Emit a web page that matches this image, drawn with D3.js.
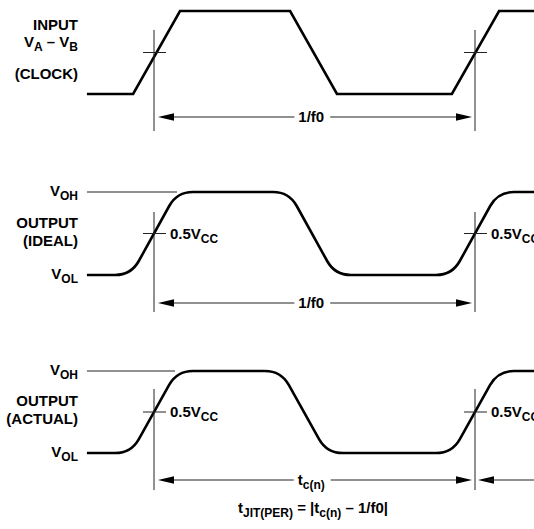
<!DOCTYPE html>
<html><head><meta charset="utf-8">
<script src="https://cdn.jsdelivr.net/npm/d3@7"></script>
<style>
body{margin:0;background:#fff}
svg{display:block}
text{font-family:"Liberation Sans",Arial,Helvetica,sans-serif;font-weight:bold;fill:#000}
</style>
</head><body>
<svg id="chart" width="534" height="529"></svg>
<script>
// ---------- data (time in units of one period 1/f0; 0 = first crossing) ----------
const timeSpan = [-0.209, 1.184];
const crossTimes = [0, 1];                       // measurement crossings
const inputTimes  = [-0.209, -0.065, 0.081, 0.424, 0.570, 0.928, 1.075, 1.184];
const inputLevels = [0, 0, 1, 1, 0, 0, 1, 1];     // 0 = low, 1 = high
const idealEdgeTimes  = [0, 0.492, 1];
const idealEdgeDirs   = [1, -1, 1];               // 1 rise, -1 fall
const actualEdgeTimes = [0, 0.467, 1];
const actualEdgeDirs  = [1, -1, 1];
const rampDuration = 0.143;
const periodLabels = ["1/f0", "1/f0", "tc(n)"];
const panelNames = ["INPUT", "OUTPUT (IDEAL)", "OUTPUT (ACTUAL)"];

// ---------- layout ----------
const svg = d3.select("#chart");
const x = d3.scaleLinear().domain([0, 1]).range([154, 475]);
const yIn  = d3.scaleLinear().domain([0, 1]).range([94, 11]);
const yId  = d3.scaleLinear().domain([0, 1]).range([275, 192]);
const yAc  = d3.scaleLinear().domain([0, 1]).range([453, 371]);
const FS = 15, SUB = 12;
const ink = "#000", thin = "#222";

// input waveform
const inputData = inputTimes.map((t, i) => [t, inputLevels[i]]);
svg.append("path")
  .attr("d", d3.line().x(d => x(d[0])).y(d => yIn(d[1]))(inputData))
  .attr("fill", "none").attr("stroke", ink).attr("stroke-width", 2.6)
  .attr("stroke-linejoin", "miter");

// output waveforms with rounded ramp corners
function edgePath(times, dirs, y) {
  const p = d3.path();
  let level = dirs[0] > 0 ? 0 : 1;
  p.moveTo(x(timeSpan[0]), y(level));
  const r = 16;
  times.forEach((tm, i) => {
    const to = dirs[i] > 0 ? 1 : 0;
    const a = [x(tm - rampDuration / 2), y(level)];
    const b = [x(tm + rampDuration / 2), y(to)];
    const L = Math.hypot(b[0] - a[0], b[1] - a[1]);
    const u = [(b[0] - a[0]) / L, (b[1] - a[1]) / L];
    p.lineTo(a[0] - r, a[1]);
    p.quadraticCurveTo(a[0], a[1], a[0] + u[0] * r, a[1] + u[1] * r);
    p.lineTo(b[0] - u[0] * r, b[1] - u[1] * r);
    p.quadraticCurveTo(b[0], b[1], b[0] + r, b[1]);
    level = to;
  });
  p.lineTo(x(timeSpan[1]), y(level));
  return p.toString();
}
[[idealEdgeTimes, idealEdgeDirs, yId], [actualEdgeTimes, actualEdgeDirs, yAc]].forEach(([t, d, y]) => {
  svg.append("path").attr("d", edgePath(t, d, y))
    .attr("fill", "none").attr("stroke", ink).attr("stroke-width", 2.6);
});

// VOH reference lines
[[yId, 177], [yAc, 175]].forEach(([y, xe]) => {
  svg.append("line").attr("x1", x(timeSpan[0])).attr("x2", xe)
    .attr("y1", y(1)).attr("y2", y(1)).attr("stroke", thin).attr("stroke-width", 1);
});

// vertical markers, crosshairs, arrows
const rows = [
  {y: yIn, top: 30, bot: 131, arrowY: 117},
  {y: yId, top: 212, bot: 312, arrowY: 303},
  {y: yAc, top: 389, bot: 490, arrowY: 480}
];
function arrowHead(tipX, yy, dir) { // dir -1 points left, +1 points right
  const len = 16, hw = 3.8;
  svg.append("path")
    .attr("d", `M${tipX},${yy} L${tipX - dir * len},${yy - hw} L${tipX - dir * len},${yy + hw} Z`)
    .attr("fill", ink);
}
rows.forEach((r, i) => {
  crossTimes.forEach(t => {
    const cx = x(t), cy = r.y(0.5);
    svg.append("line").attr("x1", cx).attr("x2", cx).attr("y1", r.top).attr("y2", r.bot)
      .attr("stroke", thin).attr("stroke-width", 1);
    svg.append("line").attr("x1", cx - 11).attr("x2", cx + 12).attr("y1", cy).attr("y2", cy)
      .attr("stroke", thin).attr("stroke-width", 1);
  });
  // label text in middle
  const mid = x(0.49);
  const t = svg.append("text").attr("x", mid).attr("y", r.arrowY + 5)
    .attr("text-anchor", "middle").attr("font-size", FS);
  if (i < 2) t.text(periodLabels[i]);
  else {
    t.append("tspan").text("t");
    t.append("tspan").attr("font-size", SUB).attr("dy", 4).text("c(n)");
  }
  const bb = t.node().getBBox();
  const l0 = x(0) + 4, l1 = x(1) - 3;
  svg.append("line").attr("x1", l0 + 10).attr("x2", bb.x - 4).attr("y1", r.arrowY).attr("y2", r.arrowY)
    .attr("stroke", thin).attr("stroke-width", 1);
  svg.append("line").attr("x1", bb.x + bb.width + 6).attr("x2", l1 - 10).attr("y1", r.arrowY).attr("y2", r.arrowY)
    .attr("stroke", thin).attr("stroke-width", 1);
  arrowHead(l0, r.arrowY, -1);
  arrowHead(l1, r.arrowY, 1);
  if (i === 2) {
    const s0 = x(1) + 3;
    arrowHead(s0, r.arrowY, -1);
    svg.append("line").attr("x1", s0 + 10).attr("x2", 534).attr("y1", r.arrowY).attr("y2", r.arrowY)
      .attr("stroke", thin).attr("stroke-width", 1);
  }
});

// 0.5 VCC labels
[yId, yAc].forEach(y => {
  crossTimes.forEach(t => {
    const tx = svg.append("text").attr("x", x(t) + 16).attr("y", y(0.5) + 5).attr("font-size", FS);
    tx.append("tspan").text("0.5V");
    tx.append("tspan").attr("font-size", SUB).attr("dy", 4).text("CC");
  });
});

// left labels
const LX = 78;
function sub(y, main, s, main2, s2) {
  const t = svg.append("text").attr("x", LX).attr("y", y).attr("text-anchor", "end").attr("font-size", FS);
  t.append("tspan").text(main);
  t.append("tspan").attr("font-size", SUB).attr("dy", 4).text(s);
  if (main2) {
    t.append("tspan").attr("dy", -4).text(main2);
    t.append("tspan").attr("font-size", SUB).attr("dy", 4).text(s2);
  }
}
function plain(y, s) {
  svg.append("text").attr("x", LX).attr("y", y).attr("text-anchor", "end").attr("font-size", FS).text(s);
}
plain(30, panelNames[0]);
sub(47, "V", "A", " \u2013 V", "B");
plain(79, "(CLOCK)");
sub(yId(1) + 4, "V", "OH");
plain(228, panelNames[1].split(" ")[0]);
plain(246, panelNames[1].split(" ")[1]);
sub(yId(0) + 4, "V", "OL");
sub(yAc(1) + 4, "V", "OH");
plain(406, panelNames[2].split(" ")[0]);
plain(424, panelNames[2].split(" ")[1]);
sub(yAc(0) + 4, "V", "OL");

// formula
const f = svg.append("text").attr("x", 313).attr("y", 513).attr("text-anchor", "middle").attr("font-size", FS);
f.append("tspan").text("t");
f.append("tspan").attr("font-size", SUB).attr("dy", 4).text("JIT(PER)");
f.append("tspan").attr("dy", -4).text(" = |t");
f.append("tspan").attr("font-size", SUB).attr("dy", 4).text("c(n)");
f.append("tspan").attr("dy", -4).text(" \u2013 1/f0|");
</script>
</body></html>
